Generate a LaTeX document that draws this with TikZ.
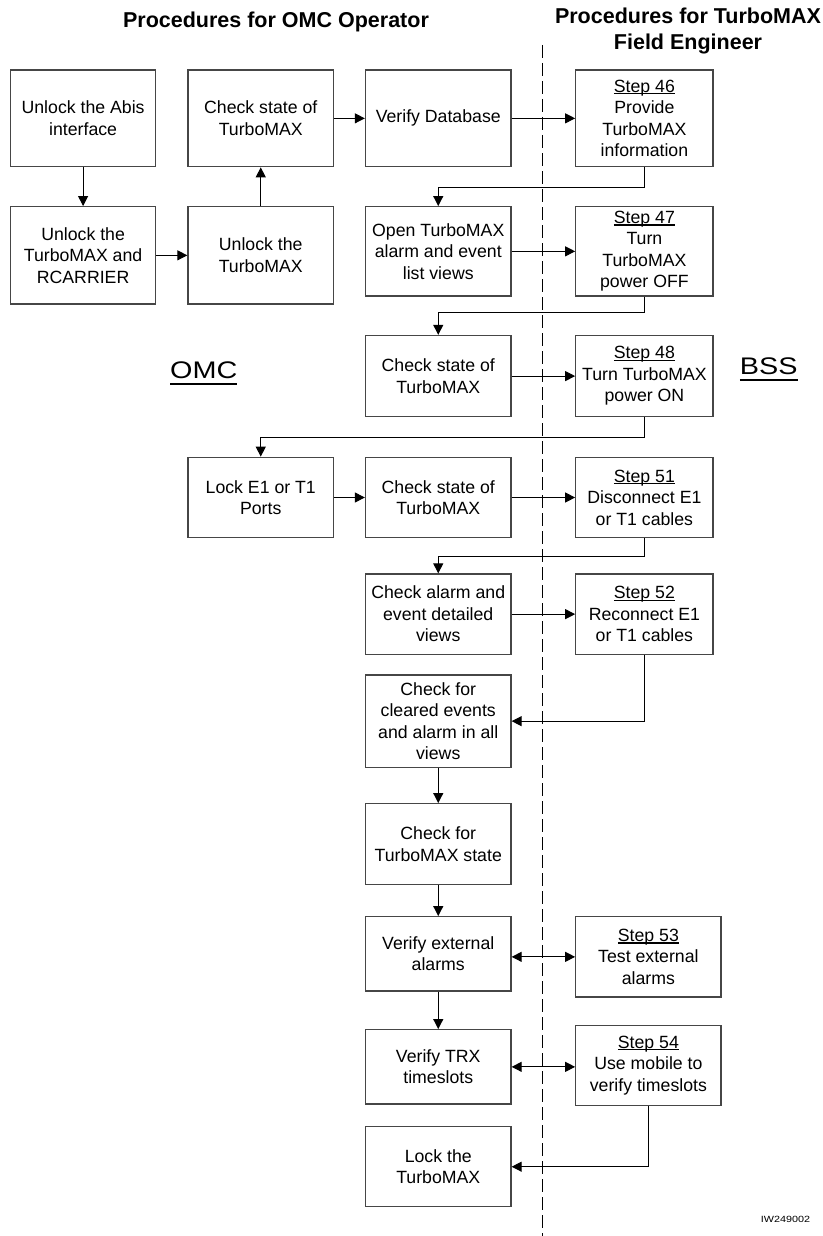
\documentclass[tikz,border=0pt]{standalone}
\usepackage{fontspec}
\setmainfont{Liberation Sans}
\usepackage{graphicx}
\usetikzlibrary{arrows.meta}
\definecolor{boxgray}{RGB}{70,70,70}
\newsavebox\ulbox
% #1 = drop of rule bottom, #2 = rule thickness, #3 = text
\newcommand\uln[3]{\sbox\ulbox{#3}\rlap{\rule[-#1]{\wd\ulbox}{#2}}\usebox\ulbox}
\newcommand\stp[1]{\uln{0.12em}{0.07em}{#1}}
\newcommand\boxfont{\fontsize{17.7}{21.5}\selectfont}
\newcommand\titlefont{\fontsize{21.5}{26.3}\selectfont\bfseries}
\begin{document}
\begin{tikzpicture}[x=1pt,y=-1pt,
  box/.style={draw=boxgray, line width=1.3pt, rectangle, inner sep=0pt, align=center, font=\boxfont},
  colA/.style={box, minimum width=145.2pt},
  colB/.style={box, minimum width=145.5pt},
  colS/.style={box, minimum width=137.2pt},
  colW/.style={box, minimum width=145.2pt},
  arr/.style={line width=1pt, -{Triangle[length=10pt,width=10pt]}},
  darr/.style={line width=1pt, {Triangle[length=10pt,width=10pt]}-{Triangle[length=10pt,width=10pt]}},
  divider/.style={line width=1.2pt, dash pattern=on 13pt off 5pt},
]
\useasboundingbox (0,0) rectangle (822,1236);

% titles
\node[font=\titlefont, anchor=base] (t1) at (276,27.3) {Procedures for OMC Operator};
\node[font=\titlefont, align=center] (t2) at (688,31.3) {Procedures for TurboMAX\\Field Engineer};

% divider
\coordinate (dtop) at (542.7,45);
\coordinate (dbot) at (542.7,1236);
\draw[divider] (dtop) -- (dbot);

% side labels
\node[anchor=base, font=\fontsize{24}{28}\selectfont] (omc) at (203.7,378.3) {\scalebox{1.2}[1]{\uln{0.29em}{0.085em}{OMC}}};
\node[anchor=base, font=\fontsize{24}{28}\selectfont] (bss) at (768.7,374.3) {\scalebox{1.2}[1]{\uln{0.29em}{0.085em}{BSS}}};
\node[anchor=base, font=\fontsize{9}{11}\selectfont] (code) at (785.5,1222.7) {\scalebox{1.2}[1]{IW249002}};

% boxes
\node[colA, minimum height=96.7pt] (A1) at (83.1,118.35) {Unlock the Abis\\interface};
\node[colB, minimum height=96.7pt] (A2) at (260.75,118.35) {Check state of\\TurboMAX};
\node[colB, minimum height=96.7pt] (A3) at (438.25,118.35) {Verify Database};
\node[colS, minimum height=96.7pt] (A4) at (644.4,118.35) {\stp{Step 46}\\Provide\\TurboMAX\\information};

\node[colA, minimum height=97.3pt] (B1) at (83.1,255.35) {Unlock the\\TurboMAX and\\RCARRIER};
\node[colB, minimum height=97.3pt] (B2) at (260.75,255.35) {Unlock the\\TurboMAX};
\node[colB, minimum height=89.3pt] (B3) at (438.25,251.35) {Open TurboMAX\\alarm and event\\list views};
\node[colS, minimum height=89.3pt] (B4) at (644.4,251.35) {\stp{Step 47}\\Turn\\TurboMAX\\power OFF};

\node[colB, minimum height=81.2pt] (C3) at (438.25,376.1) {Check state of\\TurboMAX};
\node[colS, minimum height=81.2pt] (C4) at (644.4,376.1) {\stp{Step 48}\\Turn TurboMAX\\power ON};

\node[colB, minimum height=80.4pt] (D2) at (260.75,497.5) {Lock E1 or T1\\Ports};
\node[colB, minimum height=80.4pt] (D3) at (438.25,497.5) {Check state of\\TurboMAX};
\node[colS, minimum height=80.4pt] (D4) at (644.4,497.5) {\stp{Step 51}\\Disconnect E1\\or T1 cables};

\node[colB, minimum height=80.3pt] (E3) at (438.25,614.15) {Check alarm and\\event detailed\\views};
\node[colS, minimum height=80.3pt] (E4) at (644.4,614.15) {\stp{Step 52}\\Reconnect E1\\or T1 cables};

\node[colB, minimum height=92.3pt] (F3) at (438.25,721.15) {Check for\\cleared events\\and alarm in all\\views};
\node[colB, minimum height=80.6pt] (G3) at (438.25,844) {Check for\\TurboMAX state};

\node[colB, minimum height=74.3pt] (H3) at (438.25,953.85) {Verify external\\alarms};
\node[colW, minimum height=80.3pt] (H4) at (648.4,956.85) {\stp{Step 53}\\Test external\\alarms};

\node[colB, minimum height=74.3pt] (I3) at (438.25,1066.85) {Verify TRX\\timeslots};
\node[colW, minimum height=80.4pt] (I4) at (648.4,1065.5) {\stp{Step 54}\\Use mobile to\\verify timeslots};

\node[colB, minimum height=80pt] (J3) at (438.25,1166.7) {Lock the\\TurboMAX};

% connectors
\draw[arr] (A1.south) -- (B1.north);
\draw[arr] (B1.east) -- (B2.west);
\draw[arr] (B2.north) -- (A2.south);
\draw[arr] (A2.east) -- (A3.west);
\draw[arr] (A3.east) -- (A4.west);
\draw[arr] (A4.south) -- ++(0,20.3) -| (B3.north);
\draw[arr] (B3.east) -- (B4.west);
\draw[arr] (B4.south) -- ++(0,15.7) -| (C3.north);
\draw[arr] (C3.east) -- (C4.west);
\draw[arr] (C4.south) -- ++(0,20) -| (D2.north);
\draw[arr] (D2.east) -- (D3.west);
\draw[arr] (D3.east) -- (D4.west);
\draw[arr] (D4.south) -- ++(0,18.3) -| (E3.north);
\draw[arr] (E3.east) -- (E4.west);
\draw[arr] (E4.south) |- (F3.east);
\draw[arr] (F3.south) -- (G3.north);
\draw[arr] (G3.south) -- (H3.north);
\draw[darr] (H3.east |- H4.west) -- (H4.west);
\draw[arr] (H3.south) -- (I3.north);
\draw[darr] (I3.east) -- (I3.east -| I4.west);
\draw[arr] (I4.south) |- (J3.east);
\end{tikzpicture}
\end{document}
